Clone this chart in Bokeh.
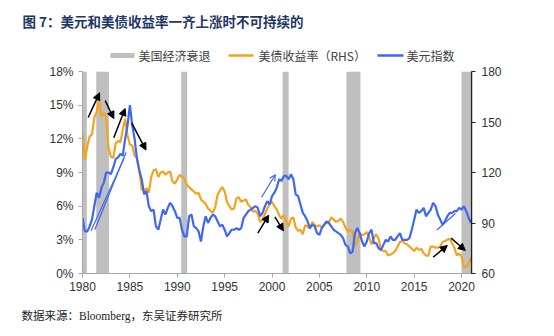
from bokeh.plotting import figure
from bokeh.layouts import column
from bokeh.models import (Range1d, LinearAxis, FixedTicker, PrintfTickFormatter,
                          Arrow, NormalHead, OpenHead)
from bokeh.core.properties import value
from bokeh.embed import file_html
from bokeh.resources import INLINE

# ---------------- data ----------------
title_text = "图 7：美元和美债收益率一齐上涨时不可持续的"
source_text = "数据来源：Bloomberg，东吴证券研究所"
legend_labels = ["美国经济衰退", "美债收益率（RHS）", "美元指数"]

x_ticks = [1980, 1985, 1990, 1995, 2000, 2005, 2010, 2015, 2020]
left_ticks = [0, 3, 6, 9, 12, 15, 18]
right_ticks = [60, 90, 120, 150, 180]

# recession periods (fractional years)
rec_start = [1980.0, 1981.45, 1990.42, 2001.12, 2007.85, 2019.99]
rec_end = [1980.46, 1982.79, 1991.05, 2001.75, 2009.33, 2020.94]

# quarterly time index 1980Q1 .. 2021Q1
quarters = [y + q / 4 for y in range(1980, 2021) for q in range(4)] + [2021.0]

# US 10Y Treasury yield (%), quarterly
yield_pct = [
    12.6, 10.1, 11.3, 12.2,   # 1980
    12.4, 13.9, 14.4, 15.4,   # 1981
    14.0, 14.3, 13.9, 11.2,   # 1982
    10.4, 10.3, 11.6, 11.8,   # 1983
    11.7, 12.8, 13.8, 12.3,   # 1984
    11.5, 11.4, 10.5, 10.3,   # 1985
    9.2, 7.5, 7.4, 7.6,       # 1986
    7.2, 8.6, 9.2, 9.3,       # 1987
    8.6, 9.0, 9.1, 8.8,       # 1988
    9.0, 9.1, 8.2, 8.0,       # 1989
    8.4, 8.8, 8.6, 8.5,       # 1990
    7.9, 7.7, 7.5, 7.3,       # 1991
    7.1, 7.2, 6.6, 6.4,       # 1992
    6.2, 5.8, 5.6, 5.4,       # 1993
    5.9, 7.0, 7.4, 7.7,       # 1994
    7.3, 6.4, 6.0, 5.7,       # 1995
    5.8, 6.7, 6.8, 6.4,       # 1996
    6.5, 6.6, 6.1, 5.9,       # 1997
    5.5, 5.6, 5.3, 4.6,       # 1998
    4.8, 5.3, 5.8, 6.2,       # 1999
    6.4, 6.0, 5.7, 5.2,       # 2000
    4.9, 5.2, 4.6, 4.2,       # 2001
    4.9, 5.0, 4.1, 3.8,       # 2002
    3.9, 3.5, 4.3, 4.2,       # 2003
    4.0, 4.6, 4.3, 4.2,       # 2004
    4.3, 4.1, 4.3, 4.5,       # 2005
    4.6, 5.0, 4.8, 4.6,       # 2006
    4.7, 4.9, 4.6, 4.1,       # 2007
    3.7, 3.9, 3.8, 2.4,       # 2008
    2.9, 3.6, 3.4, 3.5,       # 2009
    3.7, 3.2, 2.6, 3.2,       # 2010
    3.5, 3.1, 2.1, 2.0,       # 2011
    2.0, 1.6, 1.7, 1.8,       # 2012
    2.0, 2.4, 2.8, 2.9,       # 2013
    2.7, 2.6, 2.4, 2.2,       # 2014
    2.0, 2.3, 2.1, 2.2,       # 2015
    1.8, 1.6, 1.6, 2.4,       # 2016
    2.4, 2.3, 2.3, 2.4,       # 2017
    2.8, 2.9, 3.0, 3.1,       # 2018
    2.7, 2.3, 1.6, 1.8,       # 2019
    1.5, 0.6, 0.6, 0.9,       # 2020
    1.4,                      # 2021
]

# US dollar index, quarterly
dollar_index = [
    93, 85, 85, 88,        # 1980
    92, 100, 108, 105,     # 1981
    111, 114, 120, 120,    # 1982
    119, 123, 128, 129,    # 1983
    131, 130, 140, 148,    # 1984
    160, 148, 140, 128,    # 1985
    121, 116, 107, 109,    # 1986
    100, 97, 98, 88,       # 1987
    86, 92, 98, 95,        # 1988
    99, 102, 100, 97,      # 1989
    93, 93, 86, 82,        # 1990
    82, 94, 95, 88,        # 1991
    87, 85, 79, 88,        # 1992
    94, 90, 93, 95,        # 1993
    94, 91, 88, 89,        # 1994
    86, 82, 84, 86,        # 1995
    86, 87, 86, 87,        # 1996
    93, 95, 97, 98,        # 1997
    99, 100, 99, 94,       # 1998
    96, 100, 103, 101,     # 1999
    106, 108, 111, 116,    # 2000
    115, 118, 118, 116,    # 2001
    119, 116, 107, 106,    # 2002
    101, 96, 94, 91,       # 2003
    87, 89, 88, 84,        # 2004
    83, 87, 89, 91,        # 2005
    90, 88, 86, 85,        # 2006
    84, 83, 81, 77,        # 2007
    76, 72, 73, 84,        # 2008
    87, 84, 79, 76,        # 2009
    79, 84, 86, 78,        # 2010
    78, 75, 74, 77,        # 2011
    80, 79, 82, 80,        # 2012
    80, 82, 84, 80,        # 2013
    80, 80, 81, 86,        # 2014
    92, 98, 96, 97,        # 2015
    99, 94, 96, 98,        # 2016
    102, 100, 95, 92,      # 2017
    89, 91, 94, 96,        # 2018
    96, 97, 97, 99,        # 2019
    98, 100, 97, 93,       # 2020
    90,                    # 2021
]

# annotation arrows (year, % on left scale): start_x, start_y, end_x, end_y
black_arrows = [
    (1980.6, 13.9, 1981.8, 16.1),
    (1982.4, 15.4, 1983.3, 13.8),
    (1983.3, 12.1, 1984.5, 14.7),
    (1985.2, 13.4, 1986.7, 11.0),
    (1998.5, 3.6, 1999.65, 5.2),
    (2000.3, 5.05, 2001.2, 3.8),
    (2017.0, 1.45, 2018.5, 2.5),
    (2018.9, 3.15, 2020.4, 2.05),
]
blue_lines = [
    (1980.9, 3.8, 1984.4, 10.3),
    (1981.3, 3.9, 1984.6, 10.8),
    (2017.4, 3.87, 2019.35, 5.35),
]
blue_arrows = [
    (1998.9, 6.8, 2000.35, 8.8),
]

# ---------------- styling ----------------
ORANGE = "#F5A31F"
BLUE = "#3D68F2"
GRAY = "#BFBFBF"
RULE = "#2B2B2B"
TICK_FONT = "Liberation Sans"
CJK_FONT = "Noto Sans CJK SC"
W = 554


def blank_fig(h):
    f = figure(width=W, height=h, output_backend="svg", toolbar_location=None,
               x_range=Range1d(0, W), y_range=Range1d(h, 0),
               min_border=0, x_axis_location=None, y_axis_location=None,
               frame_align=False)
    f.outline_line_color = None
    f.xgrid.visible = False
    f.ygrid.visible = False
    f.border_fill_color = "white"
    f.background_fill_color = "white"
    return f


def rule_fig():
    # a 2-px tall figure whose frame (13..544) is filled dark: a horizontal rule
    f = figure(width=W, height=2, output_backend="svg", toolbar_location=None,
               x_range=Range1d(0, 1), y_range=Range1d(0, 1),
               min_border_left=13, min_border_right=W - 544,
               min_border_top=0, min_border_bottom=0,
               x_axis_location=None, y_axis_location=None, frame_align=False)
    f.outline_line_color = None
    f.xgrid.visible = False
    f.ygrid.visible = False
    f.border_fill_color = "white"
    f.background_fill_color = RULE
    return f


# ---------- header: title ----------
title_fig = blank_fig(31)
title_fig.text(x=[22], y=[20], text=[title_text], text_font=value(CJK_FONT),
               text_font_size=value("13.5px"), text_font_style="bold",
               text_color="#1F3766", text_baseline="middle", text_align="left")

# ---------- legend row (canvas y 33..64) ----------
leg = blank_fig(31)
ly = 22
leg.quad(left=[110], right=[134], top=[ly - 2.5], bottom=[ly + 2.5],
         fill_color=GRAY, line_color=None)
leg.segment(x0=[228], y0=[ly], x1=[253], y1=[ly], line_color=ORANGE, line_width=2.5)
leg.segment(x0=[377], y0=[ly], x1=[403], y1=[ly], line_color=BLUE, line_width=2.5)
leg.text(x=[138, 258, 406], y=[ly, ly, ly], text=legend_labels,
         text_font=value(CJK_FONT), text_font_size=value("12px"),
         text_color="#404040", text_baseline="middle", text_align="left")

# ---------- main chart ----------
p = figure(width=W, height=236, output_backend="svg", toolbar_location=None,
           x_range=Range1d(1980, 2021.05), y_range=Range1d(0, 18),
           min_border_left=82, min_border_right=83,
           min_border_top=7, min_border_bottom=27,
           x_axis_location=None, y_axis_location=None, frame_align=False)
p.outline_line_color = None
p.xgrid.visible = False
p.ygrid.visible = False
p.background_fill_color = "white"
p.border_fill_color = "white"
p.extra_y_ranges = {"right": Range1d(60, 180)}

xaxis = LinearAxis(ticker=FixedTicker(ticks=x_ticks),
                   formatter=PrintfTickFormatter(format="%d"))
yaxis = LinearAxis(ticker=FixedTicker(ticks=left_ticks),
                   formatter=PrintfTickFormatter(format="%d%%"))
raxis = LinearAxis(y_range_name="right", ticker=FixedTicker(ticks=right_ticks),
                   formatter=PrintfTickFormatter(format="%d"))
for ax, col in ((xaxis, "#A6A6A6"), (yaxis, "#A6A6A6"), (raxis, "#222222")):
    ax.axis_line_color = col
    ax.major_tick_line_color = col
    ax.minor_tick_line_color = None
    ax.major_tick_in = 0
    ax.major_tick_out = 4
    ax.major_label_text_font = TICK_FONT
    ax.major_label_text_font_size = "12px"
    ax.major_label_text_color = "#333333"
    ax.axis_line_width = 1
xaxis.major_label_standoff = 4
yaxis.major_label_standoff = 5
raxis.major_label_standoff = 6
raxis.axis_line_width = 1.5
p.add_layout(xaxis, "below")
p.add_layout(yaxis, "left")
p.add_layout(raxis, "right")

p.quad(left=rec_start, right=rec_end, bottom=0, top=18, fill_color=GRAY,
       line_color=None)

p.line(quarters, yield_pct, line_color=ORANGE, line_width=2.2)
p.line(quarters, dollar_index, y_range_name="right", line_color=BLUE, line_width=2.2)

for x0, y0, x1, y1 in blue_lines:
    p.add_layout(Arrow(end=None, x_start=x0, y_start=y0, x_end=x1, y_end=y1,
                       line_color=BLUE, line_width=1.2))
for x0, y0, x1, y1 in blue_arrows:
    p.add_layout(Arrow(end=OpenHead(size=6, line_color=BLUE, line_width=1.2),
                       x_start=x0, y_start=y0, x_end=x1, y_end=y1,
                       line_color=BLUE, line_width=1.2))
for x0, y0, x1, y1 in black_arrows:
    p.add_layout(Arrow(end=NormalHead(size=7, fill_color="black", line_color="black"),
                       x_start=x0, y_start=y0, x_end=x1, y_end=y1,
                       line_color="black", line_width=1.5))

# ---------- footer: source (canvas y 302..336) ----------
foot = blank_fig(34)
foot.text(x=[21], y=[13], text=[source_text],
          text_font=value("Liberation Serif, Noto Sans CJK SC"),
          text_font_size=value("11.5px"), text_color="#222222",
          text_baseline="middle", text_align="left")

layout = column(title_fig, rule_fig(), leg, p, rule_fig(), foot, spacing=0)
open("out.html", "w").write(file_html(layout, INLINE))
